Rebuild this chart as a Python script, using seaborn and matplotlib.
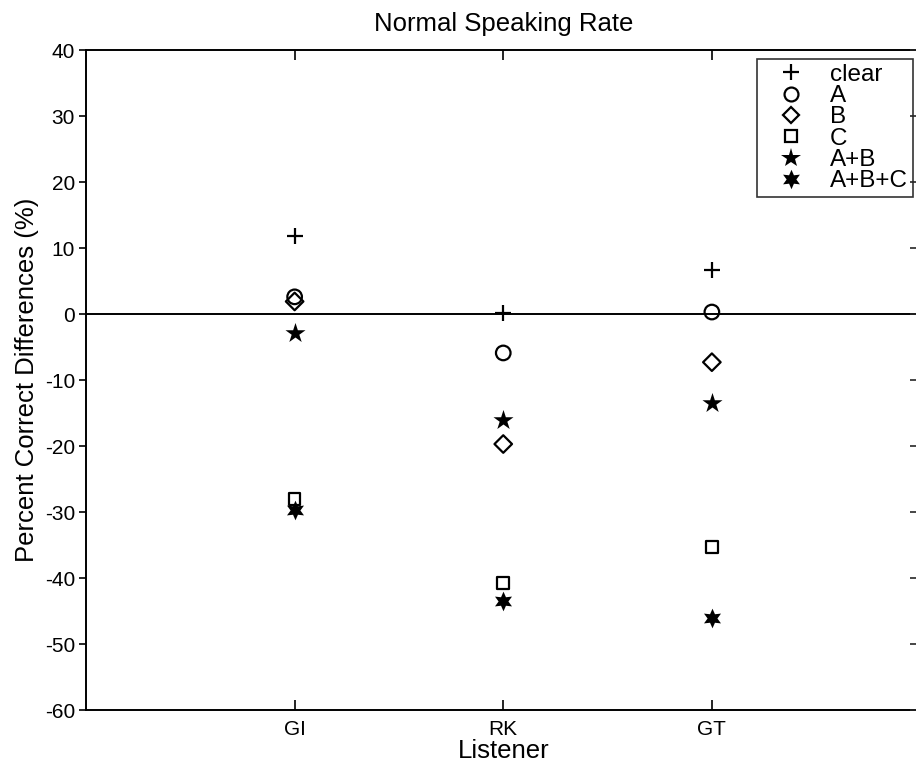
import matplotlib
matplotlib.use("Agg")
import matplotlib.pyplot as plt
import seaborn as sns
import pandas as pd
from matplotlib.lines import Line2D

# Listeners and percent-correct differences for each processing condition
listeners = ["GI", "RK", "GT"]
conditions = ["clear", "A", "B", "C", "A+B", "A+B+C"]
clear_vals = [11.8, 0.2, 6.7]
a_vals = [2.6, -5.9, 0.3]
b_vals = [1.9, -19.7, -7.3]
c_vals = [-28.0, -40.8, -35.3]
ab_vals = [-2.9, -16.1, -13.5]
abc_vals = [-29.7, -43.5, -46.1]

series = [clear_vals, a_vals, b_vals, c_vals, ab_vals, abc_vals]
rows = []
for cond, vals in zip(conditions, series):
    for i, (lis, v) in enumerate(zip(listeners, vals)):
        rows.append({"pos": i + 1, "Listener": lis, "condition": cond, "value": v})
df = pd.DataFrame(rows)

sns.set_theme(style="white")
plt.rcParams["font.family"] = ["Liberation Sans", "DejaVu Sans"]
plt.rcParams["axes.unicode_minus"] = False
plt.rcParams["text.color"] = "black"

fig = plt.figure(figsize=(9.16, 7.73), dpi=100)
ax = fig.add_axes([0.0939, 0.0815, 0.911, 0.8538])

styles = {
    "clear": dict(marker="+", s=120, color="black", linewidths=1.6),
    "A": dict(marker="o", s=110, facecolors="none", edgecolors="black", linewidths=1.6),
    "B": dict(marker="D", s=80, facecolors="none", edgecolors="black", linewidths=1.6),
    "C": dict(marker="s", s=70, facecolors="none", edgecolors="black", linewidths=1.6),
    "A+B": dict(marker="*", s=230, color="black", linewidths=0),
    "A+B+C": dict(marker=(6, 1, 0), s=200, color="black", linewidths=0),
}

handles = []
for cond in conditions:
    sub = df[df["condition"] == cond]
    kw = dict(styles[cond])
    sns.scatterplot(data=sub, x="pos", y="value", ax=ax, legend=False, **kw)
    mk = kw["marker"]
    if cond in ("A", "B", "C"):
        h = Line2D([], [], linestyle="none", marker=mk, markerfacecolor="none",
                   markeredgecolor="black", markeredgewidth=1.6,
                   markersize={"A": 10, "B": 8.5, "C": 8}[cond])
    elif cond == "clear":
        h = Line2D([], [], linestyle="none", marker="+", color="black",
                   markeredgewidth=1.6, markersize=11)
    else:
        h = Line2D([], [], linestyle="none", marker=mk, color="black",
                   markeredgewidth=0, markersize=15 if cond == "A+B" else 14)
    handles.append(h)

ax.axhline(0, color="black", linewidth=1.4, zorder=0)

ax.set_xlim(0, 4)
ax.set_ylim(-60, 40)
ax.set_xticks([1, 2, 3])
ax.set_xticklabels(listeners)
ax.set_yticks(range(-60, 41, 10))

for sp in ax.spines.values():
    sp.set_color("black")
    sp.set_linewidth(1.4)

ax.tick_params(axis="x", direction="in", length=7, width=1.2, top=True,
               bottom=True, labelsize=15, colors="black", pad=7)
ax.tick_params(axis="y", direction="out", length=5, width=1.2, left=True,
               labelsize=15, colors="black", pad=3)

ax2 = ax.twinx()
ax2.set_ylim(-60, 40)
ax2.set_yticks(range(-60, 41, 10))
ax2.tick_params(axis="y", direction="in", length=7, width=1.2, labelright=False)
for sp in ax2.spines.values():
    sp.set_visible(False)

ax.set_xlabel("Listener", fontsize=18.5, color="black", labelpad=0)
ax.set_ylabel("Percent Correct Differences (%)", fontsize=18.5, color="black", labelpad=4)
ax.set_title("Normal Speaking Rate", fontsize=18.5, color="black", pad=14)

leg = ax.legend(handles, conditions, loc="upper right",
                bbox_to_anchor=(913 / 916, 1 - 59 / 773),
                bbox_transform=fig.transFigure, borderaxespad=0,
                fontsize=17.5, frameon=True, fancybox=False, handlelength=2.4,
                handletextpad=0.4, labelspacing=-0.03, borderpad=0.2)
leg.get_frame().set_edgecolor("black")
leg.get_frame().set_linewidth(1.2)
for t in leg.get_texts():
    t.set_color("black")

fig.savefig("out.png", dpi=100, facecolor="white")
